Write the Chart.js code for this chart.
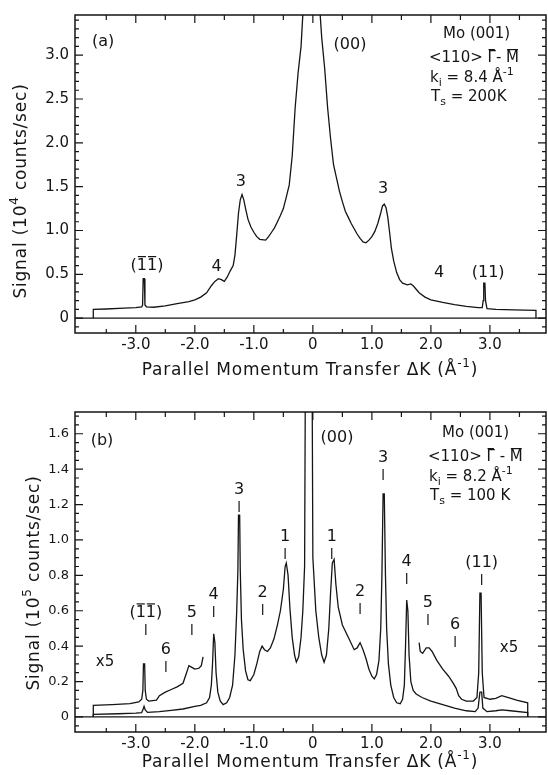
<!DOCTYPE html>
<html>
<head>
<meta charset="utf-8">
<script src="https://cdn.jsdelivr.net/npm/chart.js@4.4.0/dist/chart.umd.min.js"></script>
<style>
  body { margin: 0; background: #fff; }
  #wrap { position: relative; width: 548px; height: 775px; }
  #wrap canvas { position: absolute; left: 0; }
</style>
</head>
<body>
<div id="wrap">
  <canvas id="chartA" width="548" height="387" style="top:0"></canvas>
  <canvas id="chartB" width="548" height="388" style="top:387px"></canvas>
</div>
<script>
// panel (a): Ts = 200 K, signal in 10^4 counts/sec
const kA = [-3.72,-3.72,-3.5,-3.2,-3.0,-2.9,-2.885,-2.875,-2.855,-2.845,
  -2.82,-2.7,-2.5,-2.3,-2.1,-2.0,-1.9,-1.8,-1.72,-1.66,
  -1.6,-1.55,-1.5,-1.45,-1.4,-1.35,-1.32,-1.29,-1.26,-1.23,
  -1.2,-1.17,-1.14,-1.1,-1.05,-1.0,-0.95,-0.9,-0.8,-0.75,
  -0.7,-0.65,-0.6,-0.55,-0.5,-0.45,-0.4,-0.35,-0.3,-0.25,
  -0.2,-0.15,-0.1,-0.05,0,0.05,0.1,0.15,0.2,0.25,
  0.3,0.35,0.4,0.45,0.5,0.55,0.6,0.65,0.7,0.75,
  0.8,0.85,0.9,0.95,1.0,1.05,1.1,1.15,1.18,1.21,
  1.24,1.27,1.3,1.33,1.37,1.42,1.47,1.52,1.6,1.66,
  1.7,1.75,1.8,1.9,2.0,2.2,2.4,2.6,2.8,2.87,
  2.885,2.895,2.915,2.925,2.95,3.1,3.4,3.78,3.78];
const sigA = [0,0.10,0.105,0.115,0.12,0.13,0.15,0.45,0.45,0.15,
  0.13,0.125,0.14,0.165,0.19,0.21,0.24,0.29,0.37,0.42,
  0.45,0.44,0.42,0.47,0.54,0.60,0.72,0.95,1.20,1.35,
  1.41,1.35,1.25,1.13,1.04,0.98,0.93,0.90,0.89,0.93,
  0.98,1.03,1.10,1.17,1.25,1.38,1.52,1.85,2.4,2.8,
  3.1,3.7,4.6,6,7,5,3.7,3.2,2.85,2.4,
  2.05,1.75,1.6,1.45,1.33,1.22,1.15,1.08,1.02,0.96,
  0.91,0.87,0.86,0.89,0.93,0.99,1.08,1.20,1.28,1.30,
  1.26,1.15,0.98,0.80,0.65,0.52,0.44,0.40,0.38,0.39,
  0.37,0.33,0.29,0.24,0.21,0.18,0.155,0.135,0.12,0.12,
  0.20,0.40,0.40,0.20,0.11,0.10,0.095,0.09,0];

// panel (b): Ts = 100 K, signal in 10^5 counts/sec
const kB = [-3.72,-3.72,-3.3,-3.0,-2.9,-2.88,-2.86,-2.84,-2.8,-2.6,
  -2.4,-2.2,-2.0,-1.9,-1.8,-1.75,-1.72,-1.7,-1.68,-1.66,
  -1.64,-1.61,-1.57,-1.52,-1.46,-1.41,-1.36,-1.32,-1.29,-1.27,
  -1.26,-1.24,-1.23,-1.21,-1.18,-1.14,-1.1,-1.06,-1.0,-0.95,
  -0.9,-0.86,-0.82,-0.77,-0.72,-0.66,-0.6,-0.55,-0.5,-0.47,
  -0.45,-0.42,-0.39,-0.35,-0.31,-0.28,-0.24,-0.2,-0.17,-0.14,
  -0.12,-0.02,0.0,0.05,0.1,0.15,0.19,0.23,0.27,0.3,
  0.33,0.36,0.39,0.43,0.5,0.6,0.7,0.75,0.8,0.85,
  0.9,0.95,1.0,1.04,1.08,1.12,1.15,1.17,1.19,1.21,
  1.23,1.25,1.28,1.32,1.37,1.42,1.48,1.52,1.55,1.57,
  1.59,1.61,1.63,1.66,1.7,1.75,1.85,2.0,2.2,2.4,
  2.6,2.75,2.8,2.83,2.86,2.88,2.95,3.1,3.2,3.35,
  3.64,3.64];
const sigB = [0,0.015,0.018,0.022,0.025,0.04,0.06,0.04,0.026,0.03,
  0.037,0.045,0.06,0.065,0.08,0.11,0.18,0.30,0.47,0.42,
  0.25,0.14,0.09,0.07,0.08,0.11,0.18,0.35,0.60,0.83,
  1.14,1.14,0.83,0.55,0.38,0.26,0.21,0.205,0.24,0.30,
  0.37,0.40,0.38,0.37,0.39,0.44,0.52,0.60,0.72,0.85,
  0.87,0.80,0.62,0.45,0.35,0.31,0.34,0.45,0.60,0.85,
  2.5,2.5,0.9,0.6,0.45,0.35,0.31,0.35,0.5,0.7,
  0.87,0.89,0.75,0.62,0.52,0.45,0.38,0.39,0.42,0.38,
  0.33,0.27,0.23,0.215,0.24,0.32,0.50,0.80,1.26,1.26,
  0.80,0.50,0.30,0.18,0.11,0.08,0.075,0.10,0.18,0.40,
  0.66,0.60,0.35,0.20,0.15,0.13,0.11,0.09,0.07,0.05,
  0.035,0.03,0.05,0.14,0.14,0.05,0.03,0.035,0.04,0.035,
  0.025,0];

// x5 wings of panel (b)
const kB5L = [-3.72,-3.72,-3.4,-3.1,-2.95,-2.9,-2.88,-2.87,-2.85,-2.84,
  -2.82,-2.78,-2.65,-2.6,-2.5,-2.4,-2.3,-2.2,-2.15,-2.1,
  -2.05,-2.0,-1.93,-1.89,-1.86];
const sigB5L = [0,0.065,0.07,0.075,0.085,0.10,0.15,0.30,0.30,0.15,
  0.10,0.09,0.095,0.12,0.14,0.155,0.17,0.19,0.24,0.29,
  0.28,0.27,0.275,0.29,0.34];
const kB5R = [1.8,1.82,1.86,1.92,1.97,2.02,2.1,2.2,2.3,2.38,
  2.43,2.47,2.52,2.6,2.72,2.78,2.81,2.83,2.85,2.87,
  2.9,3.0,3.1,3.2,3.3,3.45,3.64,3.64];
const sigB5R = [0.42,0.37,0.36,0.39,0.39,0.37,0.32,0.27,0.23,0.19,
  0.16,0.12,0.10,0.09,0.09,0.11,0.25,0.70,0.70,0.25,
  0.11,0.10,0.105,0.12,0.11,0.095,0.08,0];

// tick labels
const xTicks = [-3, -2, -1, 0, 1, 2, 3];
const yTicksA = [0, 0.5, 1, 1.5, 2, 2.5, 3];
const yTicksB = [0, 0.2, 0.4, 0.6, 0.8, 1.0, 1.2, 1.4, 1.6];

// peak labels: text, k position, signal position
const peakTextA = ['3', '3', '4', '4', '(1\u03041\u0304)', '(11)', '(00)'];
const peakKA = [-1.22, 1.19, -1.63, 2.14, -2.81, 2.97, 0.63];
const peakVA = [1.56, 1.47, 0.59, 0.52, 0.60, 0.52, 3.12];

const peakTextB = ['3', '1', '1', '3', '4', '(11)', '(1\u03041\u0304)', '5', '6', '4', '2', '2', '5', '6'];
const peakKB = [-1.25, -0.47, 0.32, 1.19, 1.59, 2.86, -2.83, -2.05, -2.49, -1.68, -0.85, 0.80, 1.95, 2.41];
const peakVB = [1.282, 1.017, 1.017, 1.463, 0.876, 0.87, 0.588, 0.588, 0.379, 0.689, 0.70, 0.706, 0.644, 0.52];

const FONT = '"DejaVu Sans", sans-serif';
const INK = '#151515';

function pts(xs, ys) {
  return xs.map((x, i) => ({ x: x, y: ys[i] }));
}

function fmt(v) {
  return v === 0 ? '0' : v.toFixed(1);
}

// draws a run of text parts: [text, mode] with mode '', 'sub', 'sup', 'bar'
function rich(ctx, parts, x, y, size, align) {
  let w = 0;
  const items = parts.map(([t, m]) => {
    const fs = (m === 'sub' || m === 'sup') ? Math.round(size * 0.7) : size;
    ctx.font = fs + 'px ' + FONT;
    const tw = ctx.measureText(t).width;
    w += tw;
    return { t, m, fs, tw };
  });
  let cx = align === 'center' ? x - w / 2 : align === 'right' ? x - w : x;
  ctx.textAlign = 'left';
  ctx.textBaseline = 'middle';
  for (const it of items) {
    ctx.font = it.fs + 'px ' + FONT;
    const dy = it.m === 'sub' ? size * 0.32 : it.m === 'sup' ? -size * 0.42 : 0;
    ctx.fillText(it.t, cx, y + dy);
    if (it.m === 'bar') {
      ctx.beginPath();
      ctx.lineWidth = 1.2;
      ctx.moveTo(cx + 1, y - size * 0.56);
      ctx.lineTo(cx + it.tw - 1, y - size * 0.56);
      ctx.stroke();
    }
    cx += it.tw;
  }
}

function makeDecor(cfg) {
  return {
    id: 'decor' + cfg.name,
    afterDatasetsDraw(chart) {
      const ctx = chart.ctx;
      const a = chart.chartArea;
      const x = chart.scales.x, y = chart.scales.y;
      ctx.save();
      ctx.strokeStyle = INK;
      ctx.fillStyle = INK;

      // zero line
      const y0 = y.getPixelForValue(0);
      ctx.lineWidth = 1.3;
      ctx.beginPath();
      ctx.moveTo(a.left, y0);
      ctx.lineTo(a.right, y0);
      ctx.stroke();

      // frame
      ctx.lineWidth = 1.5;
      ctx.strokeRect(a.left, a.top, a.right - a.left, a.bottom - a.top);

      // inward ticks, x
      ctx.lineWidth = 1.2;
      ctx.beginPath();
      for (let i = -8; i <= 8; i++) {
        const v = i * 0.5;
        const p = x.getPixelForValue(v);
        if (p <= a.left + 2 || p >= a.right - 2) continue;
        const major = i % 2 === 0;
        const lb = major ? 8 : 4, lt = major ? 8 : 5;
        ctx.moveTo(p, a.bottom); ctx.lineTo(p, a.bottom - lb);
        ctx.moveTo(p, a.top); ctx.lineTo(p, a.top + lt);
      }
      // inward ticks, y
      for (let i = -10; i <= 100; i++) {
        const v = i * cfg.yMinor;
        const p = y.getPixelForValue(v);
        if (p <= a.top + 2 || p >= a.bottom - 2) continue;
        const major = i % cfg.yEvery === 0;
        const l = major ? 8 : 4;
        ctx.moveTo(a.left, p); ctx.lineTo(a.left + l, p);
        ctx.moveTo(a.right, p); ctx.lineTo(a.right - l, p);
      }
      ctx.stroke();

      // peak labels
      cfg.texts.forEach((t, i) => {
        const px = x.getPixelForValue(cfg.ks[i]);
        const py = y.getPixelForValue(cfg.vs[i]);
        const parts = t.includes('\u0304')
          ? [['(', ''], ['1', 'bar'], ['1', 'bar'], [')', '']]
          : [[t, '']];
        rich(ctx, parts, px, py, 16, 'center');
        if (cfg.marks) {
          ctx.lineWidth = 1.2;
          ctx.beginPath();
          ctx.moveTo(px, py + 11);
          ctx.lineTo(px, py + 22);
          ctx.stroke();
        }
      });

      cfg.extra(ctx, a);
      ctx.restore();
    }
  };
}

function makeChart(id, datasets, o) {
  const cv = document.getElementById(id);
  return new Chart(cv.getContext('2d'), {
    type: 'line',
    data: {
      datasets: datasets.map(d => ({
        data: d,
        borderColor: INK,
        borderWidth: 1.3,
        pointRadius: 0,
        tension: 0,
        fill: false
      }))
    },
    options: {
      responsive: false,
      animation: false,
      events: [],
      layout: { autoPadding: false, padding: { top: o.top, right: 2, left: 0, bottom: 0 } },
      plugins: { legend: { display: false }, tooltip: { enabled: false } },
      scales: {
        x: {
          type: 'linear',
          min: -4.03, max: 3.95,
          grid: { display: false, drawTicks: false },
          border: { display: false },
          afterFit: s => { s.height = o.xh; },
          afterBuildTicks: s => { s.ticks = xTicks.map(v => ({ value: v })); },
          ticks: {
            padding: 3, color: INK, font: { family: FONT, size: 15 },
            callback: v => fmt(v), maxRotation: 0, autoSkip: false
          }
        },
        y: {
          type: 'linear',
          min: o.ymin, max: o.ymax,
          grid: { display: false, drawTicks: false },
          border: { display: false },
          afterFit: s => { s.width = 75; },
          afterBuildTicks: s => { s.ticks = o.yTicks.map(v => ({ value: v })); },
          ticks: {
            padding: 6, color: INK, font: { family: FONT, size: o.yfs },
            callback: v => fmt(v), autoSkip: false
          }
        }
      }
    },
    plugins: [o.decor]
  });
}

function xTitle(ctx, cx, cy) {
  ctx.letterSpacing = '0.8px';
  rich(ctx, [['Parallel Momentum Transfer \u0394K (\u00c5', ''], ['-1', 'sup'], [')', '']], cx, cy, 17, 'center');
  ctx.letterSpacing = '0px';
}

function yTitle(ctx, cx, cy, pow) {
  ctx.save();
  ctx.translate(cx, cy);
  ctx.rotate(-Math.PI / 2);
  ctx.letterSpacing = '0.8px';
  rich(ctx, [['Signal (10', ''], [pow, 'sup'], [' counts/sec)', '']], 0, 0, 17, 'center');
  ctx.restore();
}

function info(ctx, x, y, ki, ts, gap) {
  rich(ctx, [['Mo (001)', '']], x + 14, y, 15, 'left');
  rich(ctx, [['<110> ', ''], ['\u0393', 'bar'], [gap ? ' - ' : '- ', ''], ['M', 'bar']], x, y + 24, 15, 'left');
  rich(ctx, [['k', ''], ['i', 'sub'], [' = ' + ki + ' \u00c5', ''], ['-1', 'sup']], x + 1, y + 44, 15, 'left');
  rich(ctx, [['T', ''], ['s', 'sub'], [' = ' + ts, '']], x + 2, y + 63, 15, 'left');
}

const decorA = makeDecor({
  name: 'A', yMinor: 0.1, yEvery: 5, marks: false,
  texts: peakTextA, ks: peakKA, vs: peakVA,
  extra: (ctx, a) => {
    rich(ctx, [['(a)', '']], 92, 42, 16, 'left');
    info(ctx, 429, 34, '8.4', '200K', false);
    xTitle(ctx, 310, 371);
    yTitle(ctx, 22, 191, '4');
  }
});

const decorB = makeDecor({
  name: 'B', yMinor: 0.05, yEvery: 4, marks: true,
  texts: peakTextB, ks: peakKB, vs: peakVB,
  extra: (ctx, a) => {
    rich(ctx, [['(b)', '']], 102, 54, 16, 'center');
    rich(ctx, [['(00)', '']], 337, 51, 16, 'center');
    rich(ctx, [['x5', '']], 105, 275, 15, 'center');
    rich(ctx, [['x5', '']], 509, 261, 15, 'center');
    info(ctx, 428, 46, '8.2', '100 K', true);
    xTitle(ctx, 310, 376);
    yTitle(ctx, 35, 196, '5');
  }
});

makeChart('chartA', [pts(kA, sigA)], {
  top: 12, xh: 54, ymin: -0.169, ymax: 3.458, yTicks: yTicksA, yfs: 15, decor: decorA
});

makeChart('chartB', [pts(kB, sigB), pts(kB5L, sigB5L), pts(kB5R, sigB5R)], {
  top: 25, xh: 43, ymin: -0.085, ymax: 1.723, yTicks: yTicksB, yfs: 13, decor: decorB
});
</script>
</body>
</html>
